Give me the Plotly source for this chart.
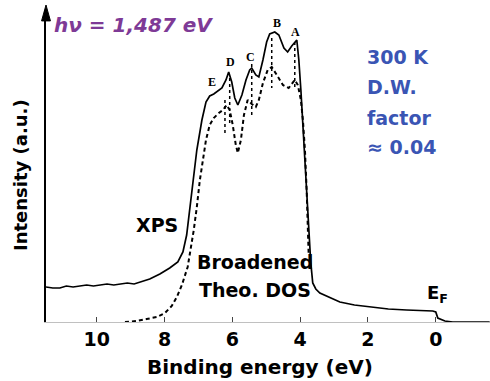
import plotly.graph_objects as go

# XPS spectrum (binding energy eV, intensity a.u.)
xps_E = [11.50, 11.30, 11.09, 10.90, 10.70, 10.50, 10.30, 10.10, 9.91, 9.70, 9.50, 9.32, 9.10, 8.90, 8.73,
         8.44, 8.14, 7.85, 7.61, 7.46, 7.35, 7.26, 7.17, 7.05, 6.90, 6.78, 6.67, 6.55, 6.31, 6.19, 6.11,
         6.02, 5.93, 5.84, 5.72, 5.60, 5.49, 5.43, 5.31, 5.22, 5.10, 4.99, 4.90, 4.75, 4.63, 4.48, 4.37,
         4.25, 4.10, 4.04, 3.98, 3.92, 3.86, 3.81, 3.75, 3.69, 3.63, 3.54, 3.42, 3.10, 2.83, 2.40, 1.86,
         1.40, 0.86, 0.40, 0.09, 0.00, -0.06, -0.27, -0.50, -1.00, -1.59]
xps_I = [35, 34, 34, 36, 35, 36, 37, 36, 37, 38, 37, 38, 39, 38, 40,
         43, 48, 54, 60, 70, 87, 112, 142, 172, 202, 220, 226, 228, 234, 242, 250,
         240, 224, 217, 227, 242, 252, 254, 247, 245, 262, 280, 288, 290, 287, 274, 270,
         276, 282, 262, 232, 197, 162, 127, 92, 60, 39, 33, 29, 24, 20, 17, 15,
         13, 12, 11, 11, 10, 4, 1, 0, 0, 0]

# Broadened theoretical DOS
dos_E = [9.17, 8.82, 8.53, 8.23, 7.99, 7.79, 7.64, 7.49, 7.32, 7.23, 7.14, 7.05, 6.96, 6.87, 6.78,
         6.67, 6.55, 6.40, 6.28, 6.17, 6.08, 5.99, 5.90, 5.84, 5.75, 5.66, 5.55, 5.43, 5.31, 5.22,
         5.10, 4.96, 4.84, 4.69, 4.51, 4.34, 4.16, 4.07, 3.98, 3.92, 3.86, 3.81, 3.78, 3.75]
dos_I = [0, 1, 3, 5, 9, 16, 25, 37, 55, 72, 92, 115, 142, 162, 182,
         197, 204, 209, 212, 217, 212, 197, 177, 169, 182, 207, 222, 218, 215, 222,
         239, 252, 255, 247, 237, 234, 242, 237, 222, 202, 172, 132, 92, 67]

# Peak labels and marker lines
peak_labels = ["E", "D", "C", "B", "A"]
peak_E = [6.61, 6.05, 5.46, 4.69, 4.13]
peak_lab_I = [240, 260, 265, 299, 290]
mark_E = [6.22, 6.08, 5.43, 4.84, 4.16]
mark_top = [222, 244, 258, 284, 280]
mark_bot = [189, 197, 207, 234, 234]

tick_vals = [10, 8, 6, 4, 2, 0]
tick_text = ["10", "8", "6", "4", "2", "0"]

FONT = "DejaVu Sans"

fig = go.Figure()
fig.add_trace(go.Scatter(x=xps_E, y=xps_I, mode="lines",
                         line=dict(color="black", width=1.7), showlegend=False))
fig.add_trace(go.Scatter(x=dos_E, y=dos_I, mode="lines",
                         line=dict(color="black", width=2, dash="4px,3px"), showlegend=False))
mx, my = [], []
for e, t, b in zip(mark_E, mark_top, mark_bot):
    mx += [e, e, None]
    my += [t, b, None]
fig.add_trace(go.Scatter(x=mx, y=my, mode="lines",
                         line=dict(color="black", width=1.5, dash="dot"), showlegend=False))

ann = []
for lab, e, i in zip(peak_labels, peak_E, peak_lab_I):
    ann.append(dict(x=e, y=i, text=lab, showarrow=False, xref="x", yref="y",
                    font=dict(family="Liberation Serif", size=12, color="black", weight="bold")))

bold = dict(family=FONT, color="black", weight="bold")
ann += [
    dict(x=11.33, y=297, xanchor="left", text="<i>hν = 1,487 eV</i>", showarrow=False,
         font=dict(family=FONT, size=20, color="#7e3a96", weight="bold")),
    dict(x=8.23, y=97, text="XPS", showarrow=False, font=dict(size=19, **bold)),
    dict(x=7.11, y=60, xanchor="left", text="Broadened", showarrow=False, font=dict(size=19, **bold)),
    dict(x=7.05, y=32, xanchor="left", text="Theo. DOS", showarrow=False, font=dict(size=19, **bold)),
    dict(x=0.33, y=28, xanchor="left", text="E<sub>F</sub>", showarrow=False, font=dict(size=18, **bold)),
    dict(x=0.482, y=-0.144, xref="paper", yref="paper", text="Binding energy (eV)", showarrow=False,
         xanchor="center", yanchor="middle", font=dict(size=20, **bold)),
    dict(x=-0.0586, y=0.471, xref="paper", yref="paper", text="Intensity (a.u.)", showarrow=False,
         textangle=-90, xanchor="center", yanchor="middle", font=dict(size=18, **bold)),
]
for txt, yy in zip(["300 K", "D.W.", "factor", "≈ 0.04"], [265, 235, 204, 175]):
    ann.append(dict(x=2.09, y=yy, xanchor="left", text=txt, showarrow=False,
                    font=dict(family=FONT, size=19, color="#3a55b4", weight="bold")))

# y-axis arrow head (triangle in paper coordinates)
shapes = [dict(type="path", xref="paper", yref="paper",
               path="M 0,1.016 L -0.010,0.965 L 0.010,0.965 Z",
               fillcolor="black", line=dict(color="black", width=1))]

fig.update_layout(
    width=490, height=381,
    margin=dict(l=46, r=0, t=10, b=59),
    paper_bgcolor="white", plot_bgcolor="white",
    annotations=ann, shapes=shapes,
    xaxis=dict(range=[11.5, -1.6], tickvals=tick_vals, ticktext=tick_text,
               ticks="inside", ticklen=5, tickcolor="#444", tickwidth=1,
               showline=True, linecolor="#c0c0c0", linewidth=1, showgrid=False, zeroline=False,
               tickfont=dict(family=FONT, size=19, color="black", weight="bold")),
    yaxis=dict(range=[0, 312], showticklabels=False, ticks="", showgrid=False, zeroline=False,
               showline=True, linecolor="black", linewidth=2),
)
fig.write_html("out.html", config={"displayModeBar": False},
               post_script="document.body.style.margin='0px';")
